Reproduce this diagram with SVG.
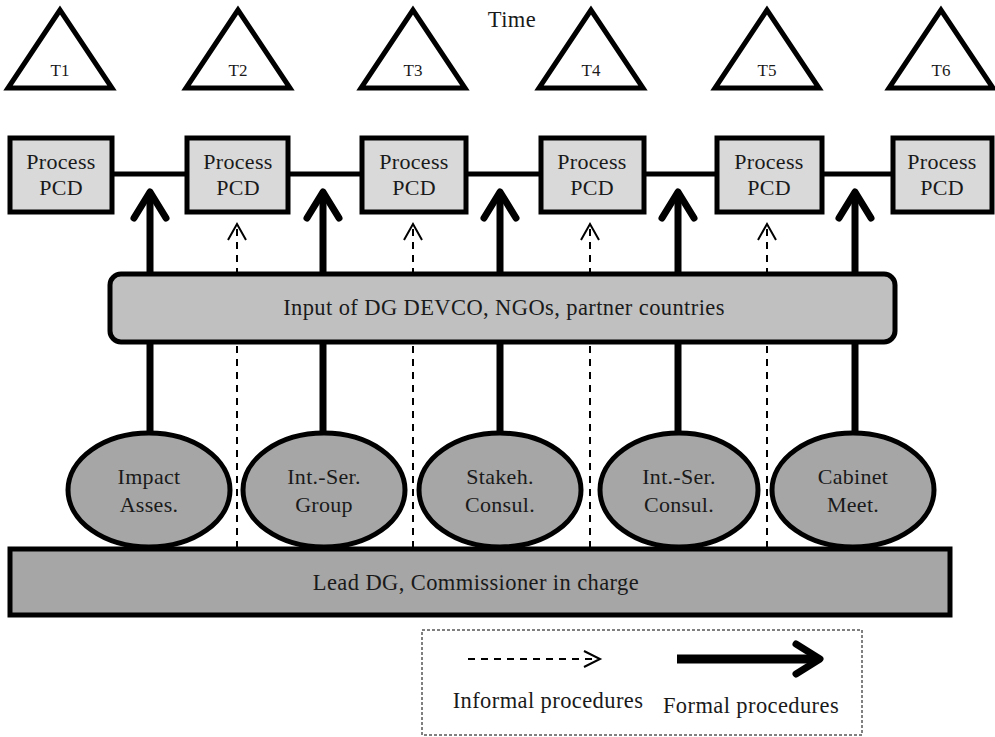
<svg xmlns="http://www.w3.org/2000/svg" width="995" height="737" viewBox="0 0 995 737" font-family="'Liberation Serif', 'DejaVu Serif', serif">
<style>
text{font-family:'Liberation Serif','DejaVu Serif',serif;fill:#1a1a1a;text-anchor:middle}
.tri{fill:#fff;stroke:#000;stroke-width:5;stroke-linejoin:miter}
.tl{font-size:17px}
.pbox{fill:#d9d9d9;stroke:#000;stroke-width:5}
.pt{font-size:22px;letter-spacing:0.3px}
.ell{fill:#a6a6a6;stroke:#000;stroke-width:5}
.et{font-size:22px;letter-spacing:0.3px}
.big{font-size:22.5px;letter-spacing:0.4px}
.thick{stroke:#000;stroke-width:7;fill:none}
.thickhead{stroke:#000;stroke-width:7;fill:none;stroke-linecap:round;stroke-linejoin:round}
.dash{stroke:#000;stroke-width:2;fill:none;stroke-dasharray:7,6}
.dhead{stroke:#000;stroke-width:2;fill:none}
.tline{stroke:#000;stroke-width:5}
</style>
<text x="512" y="27" class="big">Time</text>
<g id="t1"><polygon class="tri" points="60,10 8,88 112,88"/><text class="tl" x="60" y="76">T1</text></g>
<g id="t2"><polygon class="tri" points="238,10 186,88 290,88"/><text class="tl" x="238" y="76">T2</text></g>
<g id="t3"><polygon class="tri" points="413,10 361,88 465,88"/><text class="tl" x="413" y="76">T3</text></g>
<g id="t4"><polygon class="tri" points="591,10 539,88 643,88"/><text class="tl" x="591" y="76">T4</text></g>
<g id="t5"><polygon class="tri" points="767,10 715,88 819,88"/><text class="tl" x="767" y="76">T5</text></g>
<g id="t6"><polygon class="tri" points="941,10 889,88 993,88"/><text class="tl" x="941" y="76">T6</text></g>

<g id="connectors">
<line class="tline" x1="112" y1="174" x2="893" y2="174"/>
<g id="formal">
<line class="thick" x1="150" y1="195" x2="150" y2="433"/><polyline class="thickhead" points="134,218 150,192 166,218"/>
<line class="thick" x1="323" y1="195" x2="323" y2="433"/><polyline class="thickhead" points="307,218 323,192 339,218"/>
<line class="thick" x1="500" y1="195" x2="500" y2="433"/><polyline class="thickhead" points="484,218 500,192 516,218"/>
<line class="thick" x1="678" y1="195" x2="678" y2="433"/><polyline class="thickhead" points="662,218 678,192 694,218"/>
<line class="thick" x1="855" y1="195" x2="855" y2="433"/><polyline class="thickhead" points="839,218 855,192 871,218"/>
</g>
<g id="informal">
<line class="dash" x1="237" y1="548" x2="237" y2="225"/><polyline class="dhead" points="228,240 237,224 246,240"/>
<line class="dash" x1="413" y1="548" x2="413" y2="225"/><polyline class="dhead" points="404,240 413,224 422,240"/>
<line class="dash" x1="590" y1="548" x2="590" y2="225"/><polyline class="dhead" points="581,240 590,224 599,240"/>
<line class="dash" x1="767" y1="548" x2="767" y2="225"/><polyline class="dhead" points="758,240 767,224 776,240"/>
</g>
</g>

<g id="p1"><rect class="pbox" x="10" y="138" width="102" height="74"/><text class="pt" x="61" y="169">Process</text><text class="pt" x="61" y="195">PCD</text></g>
<g id="p2"><rect class="pbox" x="187" y="138" width="101" height="74"/><text class="pt" x="238" y="169">Process</text><text class="pt" x="238" y="195">PCD</text></g>
<g id="p3"><rect class="pbox" x="362" y="138" width="104" height="74"/><text class="pt" x="414" y="169">Process</text><text class="pt" x="414" y="195">PCD</text></g>
<g id="p4"><rect class="pbox" x="541" y="138" width="103" height="74"/><text class="pt" x="592" y="169">Process</text><text class="pt" x="592" y="195">PCD</text></g>
<g id="p5"><rect class="pbox" x="717" y="138" width="105" height="74"/><text class="pt" x="769" y="169">Process</text><text class="pt" x="769" y="195">PCD</text></g>
<g id="p6"><rect class="pbox" x="893" y="138" width="99" height="74"/><text class="pt" x="942" y="169">Process</text><text class="pt" x="942" y="195">PCD</text></g>

<g id="input"><rect x="110" y="274" width="785" height="68" rx="11" fill="#c0c0c0" stroke="#000" stroke-width="5"/><text x="504" y="315" class="big">Input of DG DEVCO, NGOs, partner countries</text></g>

<g id="lead"><rect x="10" y="549" width="940" height="66" fill="#a6a6a6" stroke="#000" stroke-width="5"/><text x="476" y="590" class="big">Lead DG, Commissioner in charge</text></g>

<g id="e1"><ellipse class="ell" cx="149" cy="490" rx="81" ry="57"/><text class="et" x="149" y="484">Impact</text><text class="et" x="149" y="512">Asses.</text></g>
<g id="e2"><ellipse class="ell" cx="324" cy="490" rx="81" ry="57"/><text class="et" x="324" y="484">Int.-Ser.</text><text class="et" x="324" y="512">Group</text></g>
<g id="e3"><ellipse class="ell" cx="500" cy="490" rx="81" ry="57"/><text class="et" x="500" y="484">Stakeh.</text><text class="et" x="500" y="512">Consul.</text></g>
<g id="e4"><ellipse class="ell" cx="679" cy="490" rx="79" ry="57"/><text class="et" x="679" y="484">Int.-Ser.</text><text class="et" x="679" y="512">Consul.</text></g>
<g id="e5"><ellipse class="ell" cx="853" cy="490" rx="81" ry="57"/><text class="et" x="853" y="484">Cabinet</text><text class="et" x="853" y="512">Meet.</text></g>

<g id="legend">
<rect x="422" y="630" width="440" height="105" fill="none" stroke="#000" stroke-width="1" stroke-dasharray="3,2"/>
<line class="dash" x1="468" y1="659" x2="598" y2="659"/><polyline class="dhead" points="584,651 600,659 584,667"/>
<line x1="677" y1="659" x2="815" y2="659" stroke="#000" stroke-width="9"/><polyline class="thickhead" points="796,644 820,659 796,674"/>
<text x="548" y="708" class="big">Informal procedures</text>
<text x="751" y="713" class="big">Formal procedures</text>
</g>
</svg>
